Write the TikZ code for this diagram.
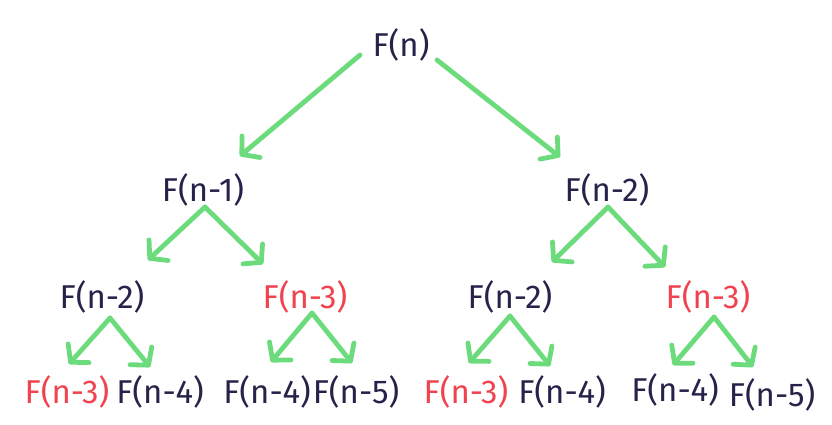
\documentclass[tikz,border=0pt]{standalone}
\usepackage{fontspec}
\setmainfont{Fira Sans}
\usetikzlibrary{arrows.meta}
\definecolor{navy}{HTML}{26234A}
\definecolor{fred}{HTML}{F0434F}
\definecolor{fgreen}{HTML}{6BDB7C}
\tikzset{
  lbl/.style={inner sep=0pt, text=navy, font=\fontsize{33}{38}\selectfont},
  hot/.style={lbl, text=fred},
  arr/.style={draw=fgreen, line width=4.8pt, line cap=round,
    -{Straight Barb[length=12pt,width=28pt,line cap=round,line join=round]}}
}
\begin{document}
\begin{tikzpicture}[x=1pt,y=1pt]
\useasboundingbox (0,0) rectangle (832,-424);
% nodes
\node[lbl] (n0) at (401,-45) {F(n)};
\node[lbl] (n1) at (203,-190) {F(n-1)};
\node[lbl] (n2) at (607,-190) {F(n-2)};
\node[lbl] (n3) at (102,-297) {F(n-2)};
\node[hot] (n4) at (305,-297) {F(n-3)};
\node[lbl] (n5) at (510,-297) {F(n-2)};
\node[hot] (n6) at (708,-297) {F(n-3)};
\node[hot] (l1) at (67,-392) {F(n-3)};
\node[lbl] (l2) at (160,-392) {F(n-4)};
\node[lbl] (l3) at (267,-392) {F(n-4)};
\node[lbl] (l4) at (356,-392) {F(n-5)};
\node[hot] (l5) at (466,-392) {F(n-3)};
\node[lbl] (l6) at (562,-392) {F(n-4)};
\node[lbl] (l7) at (675,-390) {F(n-4)};
\node[lbl] (l8) at (772,-395) {F(n-5)};
% connector end points
\coordinate (a0l) at (360,-55);  \coordinate (t0l) at (240,-156);
\coordinate (a0r) at (437,-60);  \coordinate (t0r) at (560,-157);
\coordinate (a1) at (205,-207);  \coordinate (t1l) at (148,-260); \coordinate (t1r) at (263,-264);
\coordinate (a2) at (608,-207);  \coordinate (t2l) at (552,-262); \coordinate (t2r) at (665,-267);
\coordinate (a3) at (110,-318);  \coordinate (t3l) at (69,-364);  \coordinate (t3r) at (150,-367);
\coordinate (a4) at (312,-313);  \coordinate (t4l) at (271,-362); \coordinate (t4r) at (352,-363);
\coordinate (a5) at (510,-316);  \coordinate (t5l) at (469,-363); \coordinate (t5r) at (550,-366);
\coordinate (a6) at (714,-317);  \coordinate (t6l) at (673,-365); \coordinate (t6r) at (753,-367);
% connectors
\draw[arr] (a0l) -- (t0l);
\draw[arr] (a0r) -- (t0r);
\foreach \i in {1,...,6}{
  \draw[arr] (a\i) -- (t\i l);
  \draw[arr] (a\i) -- (t\i r);
}
\end{tikzpicture}
\end{document}
